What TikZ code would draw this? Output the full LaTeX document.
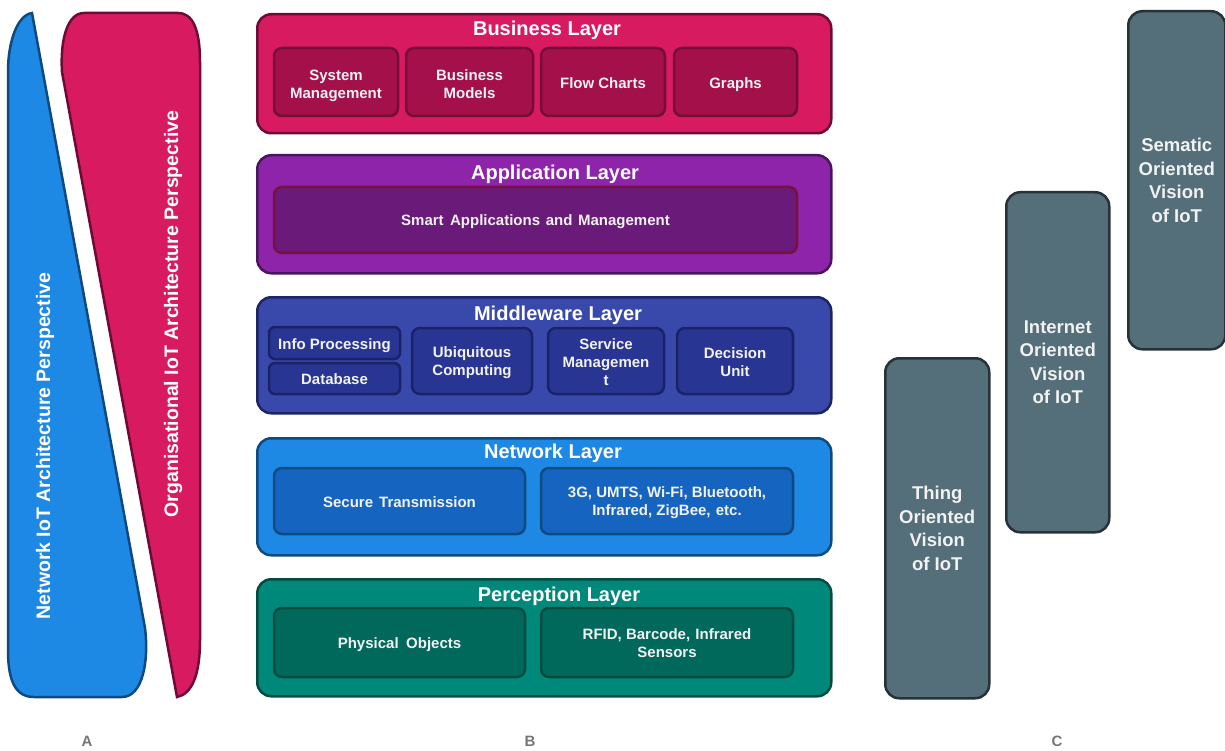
\documentclass[tikz,border=0pt]{standalone}
\usepackage{fontspec}
\setmainfont{Liberation Sans}
\definecolor{txt}{HTML}{F2F2F2}
\definecolor{busF}{HTML}{D81B60}\definecolor{busD}{HTML}{6F0A38}
\definecolor{busI}{HTML}{A3104A}\definecolor{busID}{HTML}{760C37}
\definecolor{appF}{HTML}{8E24AA}\definecolor{appD}{HTML}{4A1560}
\definecolor{appI}{HTML}{6A1B7A}\definecolor{appID}{HTML}{7A1040}
\definecolor{midF}{HTML}{3949AB}\definecolor{midD}{HTML}{1C2564}
\definecolor{midI}{HTML}{283593}\definecolor{midID}{HTML}{1A2366}
\definecolor{netF}{HTML}{1E88E5}\definecolor{netD}{HTML}{0E4A80}
\definecolor{netI}{HTML}{1565C0}\definecolor{netID}{HTML}{0D4A80}
\definecolor{perF}{HTML}{00897B}\definecolor{perD}{HTML}{004D40}
\definecolor{perI}{HTML}{00695C}\definecolor{perID}{HTML}{004D40}
\definecolor{visF}{HTML}{546E7A}\definecolor{visD}{HTML}{263238}
\definecolor{lblC}{HTML}{757575}
\tikzset{
  layerbox/.style={rectangle, rounded corners=14pt, line width=2.5pt, inner sep=0pt, anchor=north west},
  ltitle/.style={text=white, font=\fontsize{20}{23}\selectfont\bfseries, inner sep=0pt},
  ibox/.style={rectangle, rounded corners=8pt, line width=2.5pt, inner sep=0pt},
  itext/.style={align=center, text=txt, inner sep=0pt, font=\fontsize{15}{18}\selectfont\bfseries},
  bi/.style={ibox, fill=busI, draw=busID},
  ai/.style={ibox, fill=appI, draw=appID},
  mi/.style={ibox, fill=midI, draw=midID},
  ni/.style={ibox, fill=netI, draw=netID},
  pi/.style={ibox, fill=perI, draw=perID},
  vis/.style={rectangle, rounded corners=14pt, line width=2.5pt, fill=visF, draw=visD, inner sep=0pt,
    align=center, text=txt, font=\fontsize{18.5}{23.5}\selectfont\bfseries, anchor=north west},
  sidetxt/.style={rotate=90, text=white, font=\fontsize{19.5}{22}\selectfont\bfseries, inner sep=0pt},
  lbl/.style={text=lblC, font=\fontsize{15}{18}\selectfont\bfseries, inner sep=0pt}
}
\begin{document}
\begin{tikzpicture}[x=1pt, y=-1pt]
\useasboundingbox (0,0) rectangle (1225,751);
% A column shapes
\draw[line width=2.5pt, fill=netF, draw=netD]
  (32,13) -- (145,628) .. controls (149,660) and (143,697) .. (122,697)
  -- (34,697) .. controls (16,697) and (8,682) .. (8,650)
  -- (8,72) .. controls (8,40) and (18,15) .. (32,13) -- cycle;
\draw[line width=2.5pt, fill=busF, draw=busD]
  (62,72) .. controls (60,38) and (68,13) .. (84,13)
  -- (178,13) .. controls (193,13) and (200,30) .. (200,62)
  -- (200,640) .. controls (200,675) and (192,694) .. (177,697)
  -- cycle;
\node[sidetxt] (netpersp) at (45,446) {Network IoT Architecture Perspective};
\node[sidetxt] (orgpersp) at (173,314) {Organisational IoT Architecture Perspective};

% B column layers
\node[layerbox, fill=busF, draw=busD, minimum width=574, minimum height=119] (bus) at (256,13) {};
\node[layerbox, fill=appF, draw=appD, minimum width=574, minimum height=118] (app) at (256,154) {};
\node[layerbox, fill=midF, draw=midD, minimum width=574, minimum height=116] (mid) at (256,296) {};
\node[layerbox, fill=netF, draw=netD, minimum width=574, minimum height=117] (net) at (256,437) {};
\node[layerbox, fill=perF, draw=perD, minimum width=574, minimum height=117] (per) at (256,578) {};

\node[ltitle] (bust) at (547,30) {Business Layer};
\node[ltitle] (appt) at (555,174) {Application Layer};
\node[ltitle] (midt) at (558,315) {Middleware Layer};
\node[ltitle] (nett) at (553,453) {Network Layer};
\node[ltitle] (pert) at (559,596) {Perception Layer};

% business
\node[bi, minimum width=124, minimum height=68] (sm) at (336,82) {};
\node[bi, minimum width=127, minimum height=68] (bm) at (469.5,82) {};
\node[bi, minimum width=124, minimum height=68] (fc) at (603,82) {};
\node[bi, minimum width=123, minimum height=68] (gr) at (735.5,82) {};
\node[itext] (smt) at ([yshift=-4pt]sm.center) {System\\Management};
\node[itext] (bmt) at ([yshift=-2pt]bm.center) {Business\\Models};
\node[itext] (fct) at ([yshift=-1pt]fc.center) {Flow Charts};
\node[itext] (grt) at ([yshift=-3pt]gr.center) {Graphs};

% application
\node[ai, minimum width=523, minimum height=66] (sa) at (535.5,220) {};
\node[itext] (sat) at ([yshift=-2pt]sa.center) {Smart\hspace{0.15em} Applications\hspace{0.1em} and\hspace{0.1em} Management};

% middleware
\node[mi, rounded corners=6pt, minimum width=131, minimum height=32] (ip) at (334.5,343) {};
\node[mi, rounded corners=6pt, minimum width=131, minimum height=31] (db) at (334.5,378.5) {};
\node[mi, minimum width=120, minimum height=66] (uc) at (472,361) {};
\node[mi, minimum width=116, minimum height=66] (sv) at (606,361) {};
\node[mi, minimum width=116, minimum height=66] (du) at (735,361) {};
\node[itext] (ipt) at ([yshift=-3pt]ip.center) {Info Processing};
\node[itext] (dbt) at ([yshift=-1pt]db.center) {Database};
\node[itext] (uct) at ([yshift=-2pt]uc.center) {Ubiquitous\\Computing};
\node[itext] (svt) at ([yshift=-1pt]sv.center) {Service\\Managemen\\t};
\node[itext] (dut) at ([yshift=-1pt]du.center) {Decision\\Unit};

% network
\node[ni, minimum width=251, minimum height=66] (st) at (399.5,501) {};
\node[ni, minimum width=252, minimum height=66] (tg) at (667,501) {};
\node[itext] (stt) at ([yshift=-1pt]st.center) {Secure\hspace{0.4em}Transmission};
\node[itext] (tgt) at ([yshift=-2pt]tg.center) {3G, UMTS, Wi-Fi, Bluetooth,\\Infrared, ZigBee,\hspace{0.35em}etc.};

% perception
\node[pi, minimum width=251, minimum height=69] (po) at (399.5,642.5) {};
\node[pi, minimum width=252, minimum height=69] (rf) at (667,642.5) {};
\node[itext] (pot) at ([yshift=-2pt]po.center) {Physical\hspace{0.5em}Objects};
\node[itext] (rft) at ([yshift=-1pt]rf.center) {RFID, Barcode,\hspace{0.35em}Infrared\\Sensors};

% C column
\node[vis, minimum width=104, minimum height=340] (thing) at (884,357) {Thing\\Oriented\\Vision\\of IoT};
\node[vis, minimum width=103, minimum height=340] (inet) at (1005,191) {Internet\\Oriented\\Vision\\of IoT};
\node[vis, minimum width=97, minimum height=338] (sem) at (1127,10) {Sematic\\Oriented\\Vision\\of IoT};

% labels
\node[lbl] (la) at (87,741) {A};
\node[lbl] (lb) at (530,741) {B};
\node[lbl] (lc) at (1057,741) {C};
\end{tikzpicture}
\end{document}
